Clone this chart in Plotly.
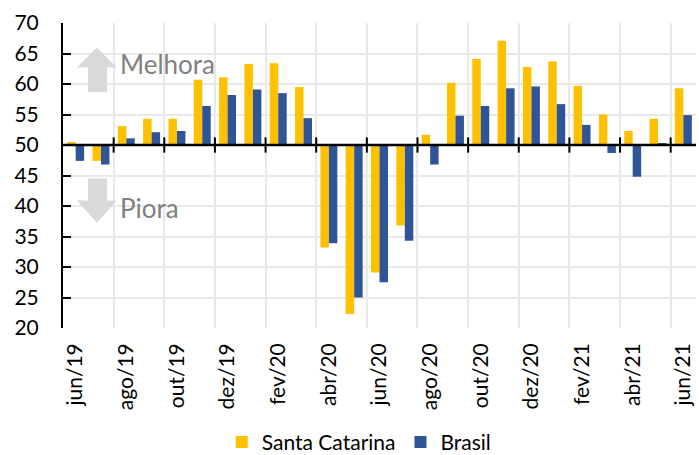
import plotly.graph_objects as go

months = ["jun/19", "jul/19", "ago/19", "set/19", "out/19", "nov/19", "dez/19",
          "jan/20", "fev/20", "mar/20", "abr/20", "mai/20", "jun/20", "jul/20",
          "ago/20", "set/20", "out/20", "nov/20", "dez/20", "jan/21", "fev/21",
          "mar/21", "abr/21", "mai/21", "jun/21"]
santa_catarina = [50.5, 47.4, 53.1, 54.3, 54.3, 60.7, 61.1, 63.3, 63.4, 59.5, 33.2, 22.3,
                  29.1, 36.8, 51.7, 60.2, 64.1, 67.1, 62.8, 63.7, 59.7, 55.0, 52.3, 54.3, 59.3]
brasil = [47.4, 46.8, 51.1, 52.1, 52.3, 56.4, 58.2, 59.1, 58.5, 54.4, 33.9, 25.0,
          27.5, 34.3, 46.8, 54.8, 56.4, 59.3, 59.6, 56.7, 53.3, 48.7, 44.8, 50.2, 54.9]
baseline = 50
y_ticks = [20, 25, 30, 35, 40, 45, 50, 55, 60, 65, 70]

FONT = "Lato"
YELLOW = "#FFC000"
BLUE = "#2F5597"
GRID = "#E9E9E9"

idx = list(range(len(months)))

fig = go.Figure()
fig.add_trace(go.Bar(x=idx, y=[v - baseline for v in santa_catarina], base=baseline,
                     name="Santa Catarina", marker=dict(color=YELLOW, line=dict(width=0)),
                     customdata=santa_catarina, hovertemplate="%{customdata}<extra></extra>"))
fig.add_trace(go.Bar(x=idx, y=[v - baseline for v in brasil], base=baseline,
                     name="Brasil", marker=dict(color=BLUE, line=dict(width=0)),
                     customdata=brasil, hovertemplate="%{customdata}<extra></extra>"))

boundaries = [i + 1.5 for i in idx[::2][:-1]]

shapes = [dict(type="line", xref="x", yref="y", x0=-0.5, x1=len(months) - 0.5,
               y0=baseline, y1=baseline, line=dict(color="black", width=2.5), layer="above")]
for b in boundaries:
    shapes.append(dict(type="line", xref="x", yref="y", x0=b, x1=b,
                       y0=baseline - 1.25, y1=baseline + 1.25,
                       line=dict(color="black", width=2), layer="above"))

# block arrows (Melhora / Piora)
ax_l, ax_r, ax_sl, ax_sr = 0.05, 1.63, 0.49, 1.24
ax_c = (ax_l + ax_r) / 2
up = dict(tip=65.95, head=62.7, tail=58.7)
dn = dict(tail=44.5, head=40.9, tip=37.25)
up_path = (f"M {ax_c},{up['tip']} L {ax_r},{up['head']} L {ax_sr},{up['head']} "
           f"L {ax_sr},{up['tail']} L {ax_sl},{up['tail']} L {ax_sl},{up['head']} "
           f"L {ax_l},{up['head']} Z")
dn_path = (f"M {ax_c},{dn['tip']} L {ax_r},{dn['head']} L {ax_sr},{dn['head']} "
           f"L {ax_sr},{dn['tail']} L {ax_sl},{dn['tail']} L {ax_sl},{dn['head']} "
           f"L {ax_l},{dn['head']} Z")
for p in (up_path, dn_path):
    shapes.append(dict(type="path", xref="x", yref="y", path=p,
                       fillcolor="#D9D9D9", line=dict(width=0), layer="above"))

annotations = [
    dict(x=1.68, y=63.3, xref="x", yref="y", text="Melhora", showarrow=False,
         xanchor="left", yanchor="middle", font=dict(family=FONT, size=26, color="#808080")),
    dict(x=1.68, y=39.6, xref="x", yref="y", text="Piora", showarrow=False,
         xanchor="left", yanchor="middle", font=dict(family=FONT, size=26, color="#808080")),
]

fig.update_layout(
    width=699, height=455,
    margin=dict(l=63, r=3, t=23, b=127, autoexpand=False),
    paper_bgcolor="white", plot_bgcolor="white",
    barmode="group", bargap=0.33, bargroupgap=0,
    font=dict(family=FONT, size=21, color="black"),
    shapes=shapes, annotations=annotations,
    legend=dict(orientation="h", x=0.468, xanchor="center", y=-0.375, yanchor="middle",
                font=dict(family=FONT, size=21, color="black"), itemwidth=30,
                traceorder="normal"),
    showlegend=True,
)
fig.update_xaxes(
    range=[-0.5, len(months) - 0.5], tickmode="array", tickvals=idx[::2],
    ticktext=months[::2], tickangle=-90, showgrid=False, zeroline=False,
    showline=False, ticks="", ticklabelstandoff=10, automargin=False,
    tickfont=dict(family=FONT, size=21, color="black"),
    minor=dict(tickvals=boundaries, showgrid=True, gridcolor=GRID, gridwidth=1.5, ticks=""),
)
fig.update_yaxes(
    range=[20, 70], tickmode="array", tickvals=y_ticks, showgrid=True,
    gridcolor=GRID, gridwidth=1.5, zeroline=False, showline=True,
    linecolor="black", linewidth=2, ticks="inside", ticklen=8, tickwidth=2,
    tickcolor="black", ticklabelstandoff=18, automargin=False,
    tickfont=dict(family=FONT, size=21, color="black"),
)

fig.write_html("out.html", config={"displayModeBar": False},
               post_script="document.body.style.margin='0';document.body.style.overflow='hidden';")
